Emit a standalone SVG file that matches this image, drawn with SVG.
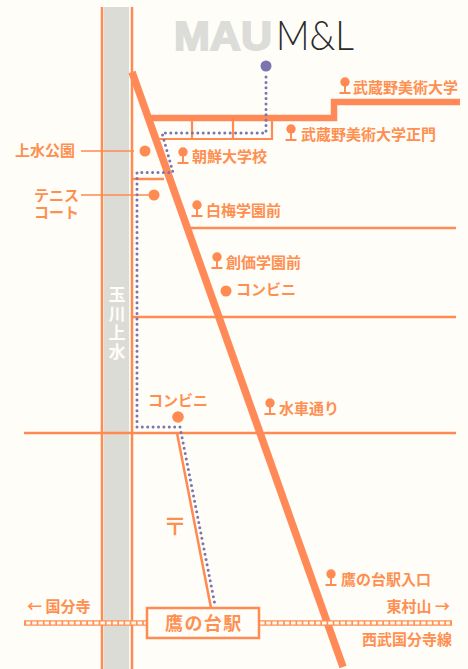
<svg xmlns="http://www.w3.org/2000/svg" width="468" height="669" viewBox="0 0 468 669">
<style>
text{font-family:"Noto Sans CJK JP","Liberation Sans",sans-serif;font-weight:700;fill:#ff8f50;font-size:15px}
.l{stroke:#ff8a52;fill:none;stroke-width:2.5}
.t{stroke:#ff8a58;fill:none;stroke-width:7.5}
.d{stroke:#7a74b0;fill:none;stroke-width:3;stroke-linecap:round;stroke-dasharray:0 5.400}
.p{fill:#ff8a52}
.c{fill:#fffdf5;font-size:17px;writing-mode:vertical-rl;letter-spacing:2px}
</style>
<defs>
<g id="pin"><circle cx="0" cy="-7" r="4.700" class="p"/><path d="M0-4V4M-5.500 4H5.500" stroke="#ff8a52" stroke-width="1.900" fill="none"/></g>
</defs>
<rect width="468" height="669" fill="#fefdf8"/>
<rect id="canal" x="104" y="7" width="25" height="662" fill="#dcdcd6"/>
<g id="connectors">
<path class="l" d="M102 7V669M132 7V669"/>
<path class="t" d="M132 72L343 667"/>
<path class="t" style="stroke-width:6.500" d="M148 118H334V102H460"/>
<path class="l" style="stroke-width:2.200" d="M192 118V139M233 118V139M272 118V139H158"/>
<path class="l" d="M133 179H164"/>
<path class="l" d="M189 228H456M133 317H456M24 433H456"/>
<path class="l" d="M177 433L211 608"/>
<path class="l" style="stroke-width:1.400" d="M81 151H134M81 195H150"/>
<path stroke="#ff9056" stroke-width="5.500" fill="none" d="M24 623H147M258 623H452"/>
<path stroke="#fffaf0" stroke-width="2.800" stroke-dasharray="4.500 1.700" fill="none" d="M26 623H147M260 623H450"/>
<path class="d" d="M266 77V133H162L173 172.500H137V427H180L215 605"/>
</g>
<g id="logo"><text x="174" y="49.500" style="font-family:'Liberation Sans',sans-serif;font-size:41px;font-weight:700;fill:#dcdcd8;stroke:#dcdcd8;stroke-width:1.800" textLength="98" lengthAdjust="spacingAndGlyphs">MAU</text>
<text x="276" y="50" style="font-family:Lato,sans-serif;font-weight:300;font-size:41px;fill:#2a2a2a" textLength="78" lengthAdjust="spacingAndGlyphs">M&amp;L</text>
<circle cx="266" cy="66" r="5.500" fill="#7a74b0"/></g>
<g id="n1"><use href="#pin" x="345" y="89"/><text x="353" y="93">武蔵野美術大学</text></g>
<g id="n2"><use href="#pin" x="291" y="136"/><text x="301" y="140">武蔵野美術大学正門</text></g>
<g id="n3"><use href="#pin" x="183" y="159"/><text x="192" y="162">朝鮮大学校</text></g>
<g id="n4"><use href="#pin" x="197" y="212"/><text x="206" y="216">白梅学園前</text></g>
<g id="n5"><use href="#pin" x="217" y="264"/><text x="226" y="268">創価学園前</text></g>
<g id="n6"><circle cx="226" cy="291" r="5.500" class="p"/><text x="236" y="295">コンビニ</text></g>
<g id="n7"><use href="#pin" x="270" y="410"/><text x="279" y="414">水車通り</text></g>
<g id="n8"><text x="148" y="406">コンビニ</text><circle cx="178" cy="417" r="5.800" class="p"/></g>
<g id="n9"><use href="#pin" x="331" y="581"/><text x="341" y="585">鷹の台駅入口</text></g>
<g id="n10"><text x="15" y="156">上水公園</text><circle cx="145" cy="151" r="5.500" class="p"/></g>
<g id="n11"><text x="34" y="201">テニス<tspan x="34" y="218">コート</tspan></text><circle cx="154" cy="195" r="5.500" class="p"/></g>
<text x="175" y="535" text-anchor="middle" style="font-size:24px;font-weight:500">〒</text>
<g id="canal-label"><text class="c" x="117" y="286">玉川上水</text></g>
<text x="27" y="612">← 国分寺</text>
<text x="450" y="612" text-anchor="end">東村山 →</text>
<text x="452" y="645" text-anchor="end">西武国分寺線</text>
<g id="station"><rect x="147" y="608" width="112" height="30" fill="#fffdf8" stroke="#ff8a52" stroke-width="2.500"/><text x="165" y="629.500" style="font-size:18px;letter-spacing:1.400px">鷹の台駅</text></g>
</svg>
